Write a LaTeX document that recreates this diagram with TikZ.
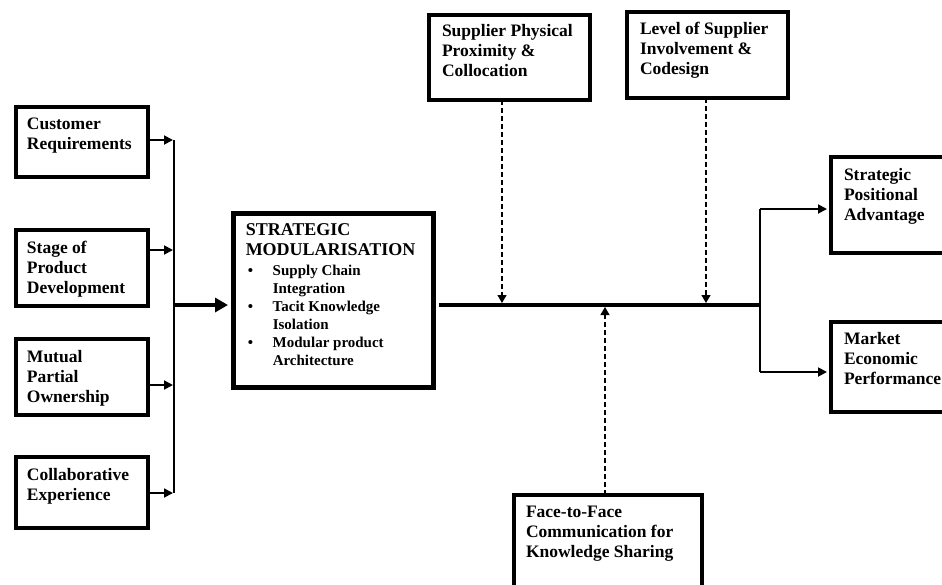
\documentclass[tikz,border=0pt]{standalone}
\usepackage{fontspec}
\setmainfont{Liberation Serif}
\usetikzlibrary{arrows.meta}
\newcommand{\bt}[5]{\parbox[t][#2pt][t]{#1pt}{\vspace*{#4pt}\raggedright\leftskip=#3pt\rule{0pt}{14pt}#5}}
\begin{document}
\begin{tikzpicture}[x=1pt,y=-1pt,
  box/.style={draw, line width=4pt, inner sep=0pt, anchor=north west, font=\bfseries\fontsize{17.5}{20}\selectfont},
  thinarrow/.style={line width=1.8pt, -{Triangle[length=9pt,width=9pt]}},
  thinline/.style={line width=1.8pt},
  thickline/.style={line width=4pt},
  thickarrow/.style={line width=4pt, -{Triangle[length=13pt,width=14pt]}},
  dasharrow/.style={line width=1.2pt, dash pattern=on 5pt off 3pt, -{Triangle[length=8pt,width=9pt]}}]
\clip (0,0) rectangle (942,584);
\fill[white] (0,0) rectangle (942,584);
% left boxes
\node[box] (cust) at (14,105) {\bt{132}{70}{11}{8}{Customer\\Requirements}};
\node[box] (stage) at (14,228) {\bt{132}{76}{11}{9}{Stage of\\Product\\Development}};
\node[box] (mutual) at (14,337) {\bt{132}{76}{11}{9}{Mutual\\Partial\\Ownership}};
\node[box] (collab) at (14,455) {\bt{132}{71}{11}{9}{Collaborative\\Experience}};
% main box
\node[box, line width=5.5pt] (main) at (230.5,210.5) {\parbox[t][174pt][t]{200pt}{\vspace*{8.5pt}\raggedright\leftskip=12.5pt
  \fontsize{18}{20}\selectfont\rule{0pt}{14pt}STRATEGIC\\MODULARISATION\par
  \fontsize{15}{18}\selectfont\vspace{2pt}
  \makebox[27pt][l]{\hspace{2pt}\textbullet}Supply Chain\\\hspace*{27pt}Integration\\
  \makebox[27pt][l]{\hspace{2pt}\textbullet}Tacit Knowledge\\\hspace*{27pt}Isolation\\
  \makebox[27pt][l]{\hspace{2pt}\textbullet}Modular product\\\hspace*{27pt}Architecture}};
% top boxes
\node[box] (sup) at (427,13) {\bt{161}{85}{13}{7}{Supplier Physical\\Proximity \&\\Collocation}};
\node[box] (lev) at (625,10) {\bt{161}{86}{13}{8}{Level of Supplier\\Involvement \&\\Codesign}};
% bottom box
\node[box] (face) at (512,493) {\bt{188}{110}{12}{8}{Face-to-Face\\Communication for\\Knowledge Sharing}};
% right boxes
\node[box] (strat) at (829,155) {\bt{130}{96}{13}{9}{Strategic\\Positional\\Advantage}};
\node[box] (market) at (829,320) {\bt{130}{90}{13}{8}{Market\\Economic\\Performance}};
% coordinates
\coordinate (b1) at (174,140);
\coordinate (b2) at (174,250);
\coordinate (b3) at (174,385);
\coordinate (b4) at (174,493);
\coordinate (bm) at (174,305);
\coordinate (r0) at (760,305);
\coordinate (r1) at (760,209);
\coordinate (r2) at (760,372);
\coordinate (d1) at (502,303);
\coordinate (d2) at (706,303);
\coordinate (d3) at (605,307);
% left connectors
\draw[thinline] (b1) -- (b4);
\draw[thinarrow] (cust.east |- b1) -- ([xshift=-1pt]b1);
\draw[thinarrow] (stage.east |- b2) -- ([xshift=-1pt]b2);
\draw[thinarrow] (mutual.east |- b3) -- ([xshift=-1pt]b3);
\draw[thinarrow] (collab.east |- b4) -- ([xshift=-1pt]b4);
\draw[thickarrow] (bm) -- ([xshift=-2.5pt]main.west |- bm);
% main line
\draw[thickline] ([xshift=2.5pt]main.east |- r0) -- (r0);
\draw[thinline] (r1) -- (r2);
\draw[thinarrow] (r1) -- ([xshift=-2pt]strat.west |- r1);
\draw[thinarrow] (r2) -- ([xshift=-2pt]market.west |- r2);
% dashed
\draw[dasharrow] ([yshift=2pt]sup.south -| d1) -- (d1);
\draw[dasharrow] ([yshift=2pt]lev.south -| d2) -- (d2);
\draw[dasharrow] ([yshift=-2pt]face.north -| d3) -- (d3);
\end{tikzpicture}
\end{document}
